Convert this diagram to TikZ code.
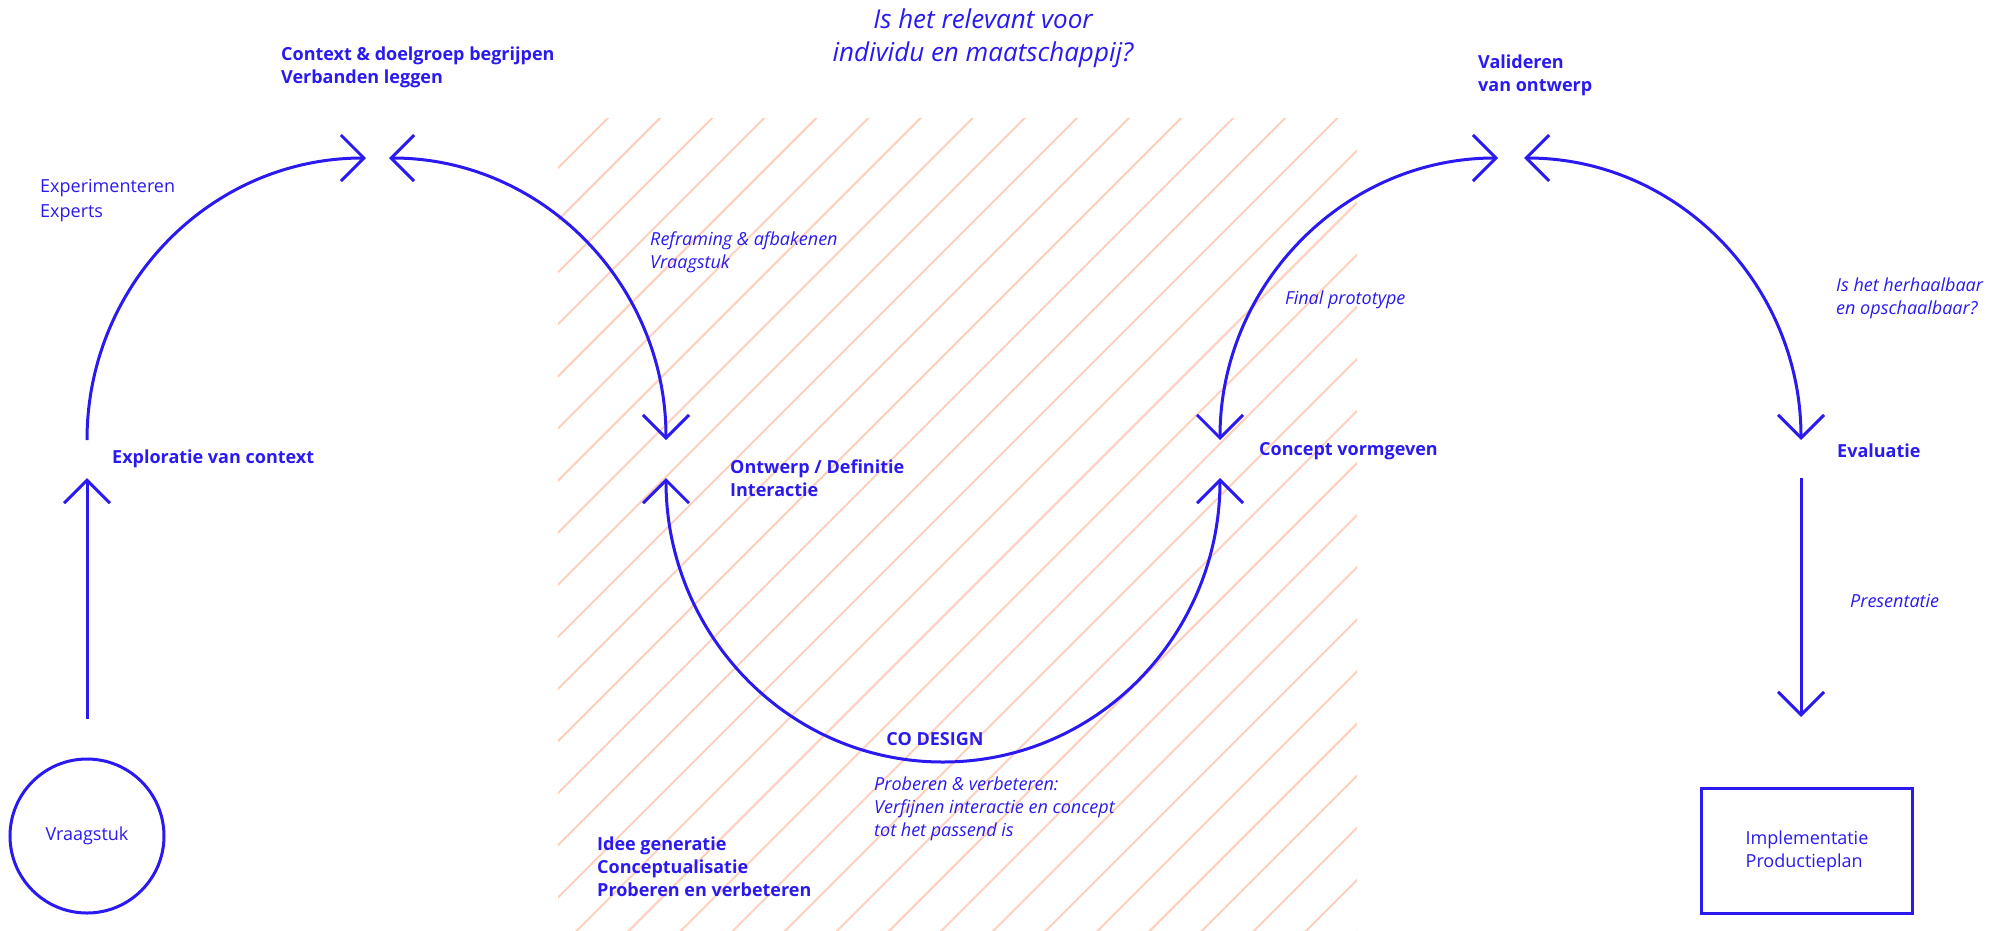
\documentclass[tikz,border=0pt]{standalone}
\usepackage{fontspec}
\setmainfont{Open Sans}
\usepackage{tikz}
\usetikzlibrary{positioning}
\usetikzlibrary{arrows.meta}
\definecolor{ink}{HTML}{2A1AF0}
\definecolor{peach}{HTML}{FDD0BE}

\begin{document}
\begin{tikzpicture}[x=1pt,y=1pt,
    >={Straight Barb[length=23pt,width=46pt]},
    flow/.style={draw=ink,line width=3pt},
    stage/.style={text=ink,font=\bfseries\fontsize{18}{23}\selectfont,align=left,inner sep=0pt,anchor=west},
    note/.style={text=ink,font=\itshape\fontsize{18}{23}\selectfont,align=left,inner sep=0pt,anchor=west},
    plain/.style={text=ink,font=\fontsize{18}{23}\selectfont,align=left,inner sep=0pt,anchor=west}]
   \useasboundingbox (0,0) rectangle (2006,-930);
   \begin{scope}
     \clip (558,-118) rectangle (1357,-930);
     \foreach \k in {-1,...,31}
       \draw[peach,line width=2pt] (628+52.1*\k,-98) -- ++(-950,-950);
   \end{scope}
   \coordinate (q_expl) at (87,-459);
   \coordinate (q_ctx) at (377,-158);
   \coordinate (q_ontw) at (666,-459);
   \coordinate (q_cd) at (943,-762);
   \coordinate (q_conc) at (1220,-459);
   \coordinate (q_val) at (1511,-158);
   \coordinate (q_eval) at (1801,-459);
   \node[circle,draw=ink,line width=3pt,minimum size=154pt,inner sep=0pt,plain,anchor=center] (vraag) at (87,-836) {Vraagstuk};
   \node[draw=ink,line width=3pt,minimum width=211pt,minimum height=125pt,plain,anchor=center] (impl) at (1807,-851) {Implementatie\\Productieplan};
   \node[stage] (l_ctx) at (281,-67) {Context \& doelgroep begrijpen\\Verbanden leggen};
   \node[plain,font=\fontsize{18}{25}\selectfont] (l_exp) at (40,-201) {Experimenteren\\Experts};
   \node[stage, right=25pt of q_expl] (l_expl) {Exploratie van context};
   \node[note] (l_refr) at (650,-252) {Reframing \& afbakenen\\Vraagstuk};
   \node[text=ink,font=\itshape\fontsize{26}{33}\selectfont,align=center] (l_quest) at (983,-38.5) {Is het relevant voor\\individu en maatschappij?};
   \node[note] (l_final) at (1285,-300) {Final prototype};
   \node[stage] (l_val) at (1478,-75) {Valideren\\van ontwerp};
   \node[note] (l_herh) at (1836,-298) {Is het herhaalbaar\\en opschaalbaar?};
   \node[stage] (l_ontw) at (730,-478) {Ontwerp / Definitie\\Interactie};
   \node[stage] (l_conc) at (1259,-451) {Concept vormgeven};
   \node[stage] (l_eval) at (1837,-451) {Evaluatie};
   \node[note] (l_pres) at (1850,-601) {Presentatie};
   \node[stage,anchor=center] (l_cd) at (935,-739) {CO DESIGN};
   \node[note] (l_prob) at (874,-809) {Proberen \& verbeteren:\\Verfijnen interactie en concept\\tot het passend is};
   \node[stage] (l_idee) at (597,-867) {Idee generatie\\Conceptualisatie\\Proberen en verbeteren};
   \path[flow]
    ([yshift=39pt]vraag.north) edge[->] ([yshift=-19pt]q_expl)
    ([yshift=19pt]q_expl) edge[->,out=90,in=180] ([xshift=-11pt]q_ctx)
    ([xshift=12pt]q_ctx) edge[<->,out=0,in=90] ([yshift=19pt]q_ontw)
    ([yshift=-19pt]q_ontw) edge[<-,out=-90,in=180] (q_cd)
    (q_cd) edge[->,out=0,in=-90] ([yshift=-19pt]q_conc)
    ([yshift=19pt]q_conc) edge[<->,out=90,in=180] ([xshift=-13pt]q_val)
    ([xshift=13pt]q_val) edge[<->,out=0,in=90] ([yshift=19pt]q_eval)
    ([yshift=-19pt]q_eval) edge[->] ([yshift=70pt]q_eval |- impl.north);
\end{tikzpicture}
\end{document}
